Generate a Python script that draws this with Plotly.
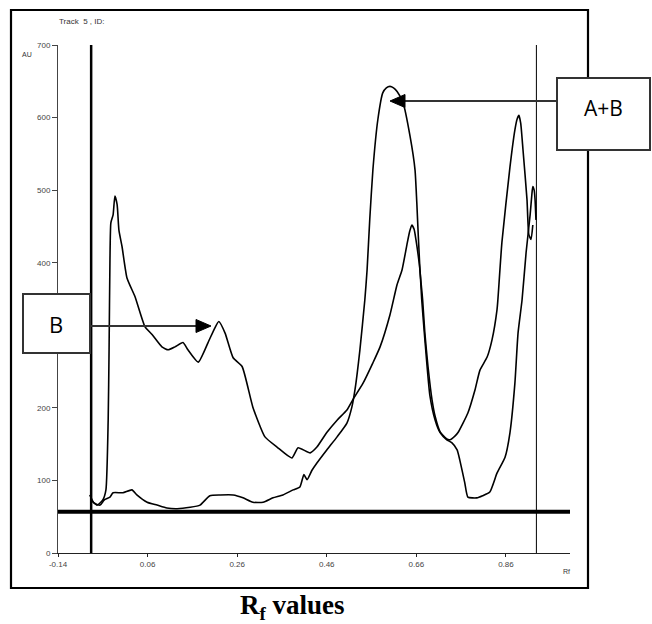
import plotly.graph_objects as go

# ---------------- data ----------------
rf_tick_vals = [-0.14, 0.06, 0.26, 0.46, 0.66, 0.86]
rf_tick_text = ["-0.14", "0.06", "0.26", "0.46", "0.66", "0.86"]
au_tick_vals = [0, 100, 200, 300, 400, 500, 600, 700]

# Track with the B peak
rf_b = [-0.066, -0.053, -0.040, -0.033, -0.028, -0.026, -0.024, -0.022, -0.017, -0.013,
        -0.008, -0.004, 0.003, 0.014, 0.032, 0.054, 0.070, 0.092, 0.106, 0.121,
        0.139, 0.150, 0.173, 0.195, 0.210, 0.219, 0.233, 0.251, 0.271, 0.295,
        0.322, 0.349, 0.382, 0.396, 0.423, 0.438, 0.460, 0.483, 0.505, 0.518,
        0.541, 0.563, 0.579, 0.601, 0.617, 0.628, 0.639, 0.645, 0.650, 0.655, 0.659, 0.668,
        0.672, 0.679, 0.690, 0.702, 0.713, 0.728, 0.739, 0.751, 0.757, 0.768,
        0.775, 0.795, 0.808, 0.824, 0.840, 0.858, 0.869, 0.880, 0.887, 0.896,
        0.905, 0.914, 0.918, 0.920, 0.923, 0.925, 0.927]
au_b = [73, 66, 73, 87, 183, 280, 404, 455, 466, 492,
        480, 445, 422, 379, 353, 312, 301, 284, 280, 284,
        290, 280, 263, 290, 310, 319, 303, 269, 257, 201,
        160, 146, 131, 145, 138, 146, 166, 183, 197, 211,
        234, 262, 284, 328, 370, 390, 425, 443, 452, 446, 432, 390,
        349, 294, 218, 183, 166, 156, 152, 142, 128, 97,
        77, 76, 79, 84, 110, 132, 166, 234, 303, 349,
        414, 466, 495, 505, 500, 487, 459]

# Track with the A+B peak
rf_ab = [-0.069, -0.060, -0.046, -0.037, -0.024, -0.017, 0.005, 0.025, 0.036, 0.059,
         0.081, 0.103, 0.126, 0.155, 0.177, 0.199, 0.222, 0.251, 0.273, 0.295,
         0.318, 0.340, 0.362, 0.385, 0.400, 0.409, 0.416, 0.427, 0.438, 0.460,
         0.483, 0.505, 0.516, 0.523, 0.534, 0.545, 0.550, 0.556, 0.563, 0.574, 0.585,
         0.593, 0.601, 0.609, 0.617, 0.630, 0.646, 0.657, 0.661, 0.668, 0.674, 0.679, 0.686,
         0.695, 0.702, 0.713, 0.728, 0.735, 0.746, 0.753, 0.775, 0.791, 0.802,
         0.818, 0.829, 0.840, 0.842, 0.851, 0.869, 0.880, 0.885, 0.889, 0.893, 0.898, 0.907,
         0.911, 0.916, 0.920]
au_ab = [80, 69, 66, 73, 77, 83, 83, 87, 80, 70,
         66, 62, 61, 63, 66, 79, 80, 80, 76, 70,
         70, 76, 80, 87, 91, 108, 101, 114, 124, 142,
         160, 179, 201, 225, 280, 349, 390, 460, 528, 597, 634,
         641, 643, 641, 636, 621, 574, 528, 483, 390, 349, 303, 257,
         211, 188, 167, 157, 156, 161, 166, 193, 225, 252,
         270, 294, 335, 349, 428, 532, 583, 598, 603, 592, 556, 487,
         439, 432, 452]

baseline_au = 57
track_start_rf = -0.066
track_end_rf = 0.928
rf_range = [-0.14, 1.003]
au_range = [0, 700]

# ---------------- layout helpers (pixel -> paper) ----------------
L, R, T, B = 58, 570, 45, 553
W, H = 652, 624


def px(x):
    return (x - L) / (R - L)


def py(y):
    return (B - y) / (B - T)


fig = go.Figure()

# baseline
fig.add_trace(go.Scatter(x=rf_range, y=[baseline_au, baseline_au], mode="lines",
                         line=dict(color="black", width=4), hoverinfo="skip"))
# track start / end markers
fig.add_trace(go.Scatter(x=[track_start_rf, track_start_rf], y=au_range, mode="lines",
                         line=dict(color="black", width=2.5), hoverinfo="skip"))
fig.add_trace(go.Scatter(x=[track_end_rf, track_end_rf], y=au_range, mode="lines",
                         line=dict(color="black", width=1), hoverinfo="skip"))
# densitogram curves
fig.add_trace(go.Scatter(x=rf_b, y=au_b, mode="lines",
                         line=dict(color="black", width=1.6, shape="spline", smoothing=0.5),
                         name="B"))
fig.add_trace(go.Scatter(x=rf_ab, y=au_ab, mode="lines",
                         line=dict(color="black", width=1.6, shape="spline", smoothing=0.5),
                         name="A+B"))

shapes = []
# outer frame
shapes.append(dict(type="rect", xref="paper", yref="paper",
                   x0=px(11), x1=px(588), y0=py(588), y1=py(10),
                   line=dict(color="black", width=2.2), fillcolor="rgba(0,0,0,0)", layer="above"))
# B label box
shapes.append(dict(type="rect", xref="paper", yref="paper",
                   x0=px(23), x1=px(90), y0=py(353), y1=py(294),
                   line=dict(color="#333", width=2), fillcolor="white", layer="above"))
# A+B label box
shapes.append(dict(type="rect", xref="paper", yref="paper",
                   x0=px(557), x1=px(650), y0=py(150), y1=py(78),
                   line=dict(color="#333", width=2), fillcolor="white", layer="above"))
# B arrow
shapes.append(dict(type="line", xref="paper", yref="paper",
                   x0=px(90), x1=px(198), y0=py(326), y1=py(326),
                   line=dict(color="#333", width=2), layer="above"))
shapes.append(dict(type="path", xref="paper", yref="paper",
                   path=f"M {px(211)} {py(326)} L {px(196)} {py(319.5)} L {px(196)} {py(332.5)} Z",
                   line=dict(color="black", width=1), fillcolor="black", layer="above"))
# A+B arrow
shapes.append(dict(type="line", xref="paper", yref="paper",
                   x0=px(557), x1=px(402), y0=py(101), y1=py(101),
                   line=dict(color="#333", width=2), layer="above"))
shapes.append(dict(type="path", xref="paper", yref="paper",
                   path=f"M {px(390)} {py(101)} L {px(405)} {py(94.5)} L {px(405)} {py(107.5)} Z",
                   line=dict(color="black", width=1), fillcolor="black", layer="above"))

annotations = [
    dict(text="Track  5 , ID:", xref="paper", yref="paper", x=px(57), y=py(21),
         xanchor="left", yanchor="middle", showarrow=False,
         font=dict(family="Liberation Sans", size=8, color="#333")),
    dict(text="AU", xref="paper", yref="paper", x=px(20), y=py(55),
         xanchor="left", yanchor="middle", showarrow=False,
         font=dict(family="Liberation Sans", size=7, color="#333")),
    dict(text="Rf", xref="paper", yref="paper", x=px(566), y=py(571),
         xanchor="center", yanchor="middle", showarrow=False,
         font=dict(family="Liberation Sans", size=7, color="#333")),
    dict(text="B", xref="paper", yref="paper", x=px(56), y=py(324),
         xanchor="center", yanchor="middle", showarrow=False,
         font=dict(family="Open Sans", size=22, color="black")),
    dict(text="A+B", xref="paper", yref="paper", x=px(603), y=py(108),
         xanchor="center", yanchor="middle", showarrow=False,
         font=dict(family="Open Sans", size=21, color="black")),
    dict(text="<b>R<sub>f</sub> values</b>", xref="paper", yref="paper", x=px(292), y=py(607),
         xanchor="center", yanchor="middle", showarrow=False,
         font=dict(family="Liberation Serif", size=27, color="black")),
]

fig.update_layout(
    width=W, height=H,
    margin=dict(l=L, r=W - R, t=T, b=H - B),
    paper_bgcolor="white", plot_bgcolor="white",
    showlegend=False,
    shapes=shapes,
    annotations=annotations,
    xaxis=dict(range=rf_range, tickvals=rf_tick_vals, ticktext=rf_tick_text,
               showgrid=False, zeroline=False, showline=True, linecolor="#222", linewidth=1,
               ticks="outside", ticklen=3, tickcolor="#222",
               tickfont=dict(family="Liberation Sans", size=8, color="#444")),
    yaxis=dict(range=au_range, tickvals=au_tick_vals,
               showgrid=False, zeroline=False, showline=True, linecolor="#444", linewidth=1,
               ticks="outside", ticklen=5, tickcolor="#444",
               tickfont=dict(family="Liberation Sans", size=8, color="#444")),
)

fig.write_html("out.html")
